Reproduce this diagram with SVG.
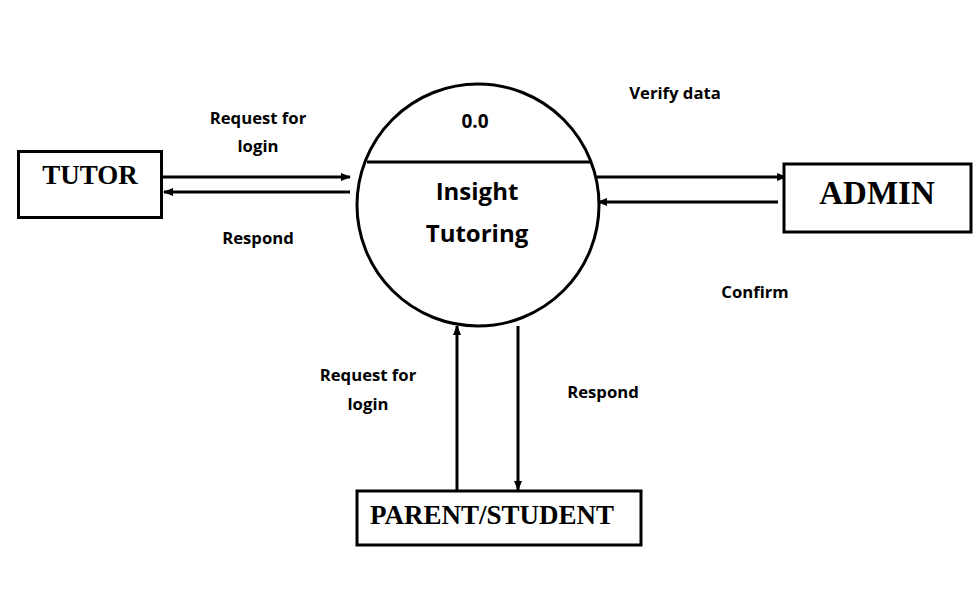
<svg xmlns="http://www.w3.org/2000/svg" width="975" height="599" viewBox="0 0 975 599">
<style>
.box{fill:#fff;stroke:#000;stroke-width:3}
.ln{stroke:#000;stroke-width:3;fill:none}
.ent{font-family:"Liberation Serif",serif;font-weight:bold;text-anchor:middle;fill:#000}
.lbl{font-family:"Open Sans","Noto Sans",sans-serif;font-weight:bold;font-size:16.7px;text-anchor:middle;fill:#000}
.proc{font-family:"Open Sans","Noto Sans",sans-serif;font-weight:bold;text-anchor:middle;fill:#000}
</style>
<defs>
<marker id="ah" markerWidth="10" markerHeight="8" refX="9" refY="4" orient="auto" markerUnits="userSpaceOnUse">
<path d="M0,0 L10,4 L0,8 Z" fill="#000"/>
</marker>
</defs>
<rect width="975" height="599" fill="#fff"/>
<g id="connectors">
<line class="ln" x1="163" y1="177" x2="350" y2="177" marker-end="url(#ah)"/>
<line class="ln" x1="350" y1="192" x2="164" y2="192" marker-end="url(#ah)"/>
<line class="ln" x1="597" y1="177" x2="786" y2="177" marker-end="url(#ah)"/>
<line class="ln" x1="778" y1="202" x2="598" y2="202" marker-end="url(#ah)"/>
<line class="ln" x1="457" y1="490" x2="457" y2="326" marker-end="url(#ah)"/>
<line class="ln" x1="518" y1="326" x2="518" y2="490" marker-end="url(#ah)"/>
</g>
<g id="process">
<circle cx="478" cy="205" r="121" class="ln"/>
<line class="ln" x1="367" y1="162" x2="591" y2="162"/>
<text class="proc" x="475" y="128" font-size="19">0.0</text>
<text class="proc" x="477" y="200" font-size="24">Insight</text>
<text class="proc" x="477" y="242" font-size="24">Tutoring</text>
</g>
<g id="tutor">
<rect class="box" x="18.5" y="151.5" width="143" height="66"/>
<text class="ent" x="90" y="184" font-size="27">TUTOR</text>
</g>
<g id="admin">
<rect class="box" x="784" y="164" width="187" height="68"/>
<text class="ent" x="877" y="204" font-size="33">ADMIN</text>
</g>
<g id="parent">
<rect class="box" x="357" y="491" width="284" height="54"/>
<text class="ent" x="492" y="524" font-size="27">PARENT/STUDENT</text>
</g>
<g id="labels">
<text class="lbl" x="258" y="124">Request for</text>
<text class="lbl" x="258" y="152">login</text>
<text class="lbl" x="258" y="244">Respond</text>
<text class="lbl" x="675" y="99">Verify data</text>
<text class="lbl" x="755" y="298">Confirm</text>
<text class="lbl" x="368" y="381">Request for</text>
<text class="lbl" x="368" y="410">login</text>
<text class="lbl" x="603" y="398">Respond</text>
</g>
</svg>
